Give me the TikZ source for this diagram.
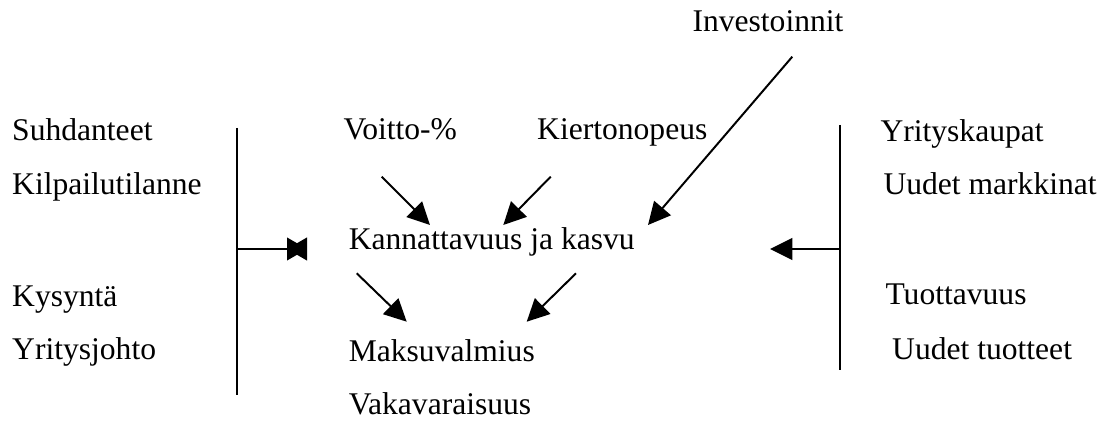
\documentclass[tikz,border=0pt]{standalone}
\usepackage{fontspec}
\setmainfont{Liberation Serif}
\usetikzlibrary{arrows.meta}

\begin{document}
\begin{tikzpicture}[
        x=0.38pt, y=-0.38pt,
        % Styles
        item/.style={
            anchor=base west, inner sep=0pt,
            font=\fontsize{12}{14}\selectfont
        },
        bar/.style={
            draw=black, line width=0.75pt
        },
        line/.style={
            -{Triangle[length=8.5pt, width=8.3pt]},
            draw=black, line width=0.75pt
        },
        bowtie/.style={
            -{Triangle[length=7.6pt, width=8.6pt, sep=-7.6pt]Triangle[reversed, length=7.6pt, width=8.6pt]},
            draw=black, line width=0.75pt
        }
    ]
        \useasboundingbox (0,0) rectangle (1102,422);

        % Outside factors (left)
        \node[item] (suhd) at (11.7,140.7) {Suhdanteet};
        \node[item] (kilp) at (11.7,195) {Kilpailutilanne};
        \node[item] (kysy) at (11.7,306.7) {Kysyntä};
        \node[item] (yjoh) at (11.7,360) {Yritysjohto};

        % Centre
        \node[item] (invest) at (692,31.7) {Investoinnit};
        \node[item] (voitto) at (343,140) {Voitto-\%};
        \node[item] (kierto) at (536.7,140) {Kiertonopeus};
        \node[item] (kann) at (348.3,250) {Kannattavuus ja kasvu};
        \node[item] (maksu) at (348.3,361.7) {Maksuvalmius};
        \node[item] (vaka) at (348.3,415) {Vakavaraisuus};

        % Company actions (right)
        \node[item] (ykaup) at (880,141.7) {Yrityskaupat};
        \node[item] (umark) at (883,195) {Uudet markkinat};
        \node[item] (tuot) at (885,305) {Tuottavuus};
        \node[item] (utuot) at (891.7,360) {Uudet tuotteet};

        % Bars
        \coordinate (lbar_top) at (237,128);
        \coordinate (lbar_mid) at (237,249);
        \coordinate (lbar_bot) at (237,395);
        \coordinate (rbar_top) at (840,125);
        \coordinate (rbar_mid) at (840,249);
        \coordinate (rbar_bot) at (840,370);
        \draw[bar] (lbar_top) -- (lbar_bot);
        \draw[bar] (rbar_top) -- (rbar_bot);

        % Arrow ends
        \coordinate (lbar_in) at (307,249);
        \coordinate (rbar_in) at (770,249);
        \coordinate (voitto_out) at (381.7,176.7);
        \coordinate (voitto_in) at (430,225);
        \coordinate (kierto_out) at (550.7,176.7);
        \coordinate (kierto_in) at (503.3,225);
        \coordinate (invest_out) at (792.3,56.7);
        \coordinate (invest_in) at (648,225);
        \coordinate (kann_outl) at (356.7,273.3);
        \coordinate (maksu_inl) at (406.7,321.7);
        \coordinate (kann_outr) at (576,273.3);
        \coordinate (maksu_inr) at (526.7,321.7);

        % Connections
        \draw[bowtie] (lbar_mid) -- (lbar_in);
        \draw[line] (rbar_mid) -- (rbar_in);
        \draw[line] (voitto_out) -- (voitto_in);
        \draw[line] (kierto_out) -- (kierto_in);
        \draw[line] (invest_out) -- (invest_in);
        \draw[line] (kann_outl) -- (maksu_inl);
        \draw[line] (kann_outr) -- (maksu_inr);

    \end{tikzpicture}
\end{document}
